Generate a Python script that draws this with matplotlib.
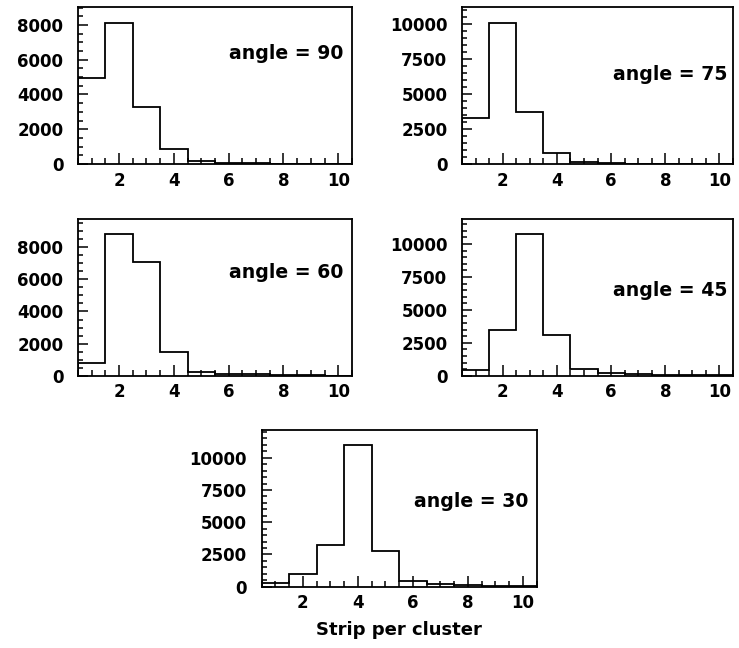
import matplotlib
matplotlib.use("Agg")
import matplotlib.pyplot as plt
from matplotlib.ticker import MultipleLocator

plt.rcParams['font.family'] = ['DejaVu Sans']
plt.rcParams['font.weight'] = 'bold'

# bin edges for strips per cluster (1..10)
edges = [0.5, 1.5, 2.5, 3.5, 4.5, 5.5, 6.5, 7.5, 8.5, 9.5, 10.5]

# counts
counts_90 = [4930, 8090, 3290, 840, 170, 80, 40, 20, 10, 5]
counts_75 = [3310, 10050, 3690, 760, 160, 60, 30, 15, 8, 4]
counts_60 = [810, 8810, 7100, 1460, 250, 120, 80, 50, 20, 10]
counts_45 = [460, 3450, 10730, 3070, 490, 230, 150, 80, 40, 20]
counts_30 = [310, 980, 3260, 10980, 2740, 470, 230, 100, 50, 20]

angles = [90, 75, 60, 45, 30]
all_counts = [counts_90, counts_75, counts_60, counts_45, counts_30]
ymaxes = [9030, 11200, 9760, 11900, 12150]
ymajor = [2000, 2500, 2000, 2500, 2500]

# axes boxes in figure fractions, plus label spot in axes coords
boxes = [[0.1055, 0.7469, 0.3708, 0.2423],
         [0.6252, 0.7469, 0.3667, 0.2423],
         [0.1055, 0.4202, 0.3708, 0.2418],
         [0.6252, 0.4202, 0.3667, 0.2418],
         [0.3541, 0.0946, 0.3721, 0.2418]]
txt_pos = [(0.967, 0.707), (0.98, 0.571), (0.967, 0.657), (0.98, 0.542), (0.969, 0.542)]

fig = plt.figure(figsize=(7.39, 6.48), dpi=100)

for i in range(5):
    ax = fig.add_axes(boxes[i])
    ax.stairs(all_counts[i], edges, color='black', lw=1.3)
    ax.set_xlim(0.5, 10.5)
    ax.set_ylim(0, ymaxes[i])
    ax.xaxis.set_major_locator(MultipleLocator(2))
    ax.xaxis.set_minor_locator(MultipleLocator(0.5))
    ax.yaxis.set_major_locator(MultipleLocator(ymajor[i]))
    ax.yaxis.set_minor_locator(MultipleLocator(500))
    ax.tick_params(which='both', direction='in', top=False, right=False, width=1.1)
    ax.tick_params(axis='x', which='major', length=8, pad=5.5, labelsize=12)
    ax.tick_params(axis='x', which='minor', length=4)
    ax.tick_params(axis='y', which='major', length=7.5, pad=10.5, labelsize=12)
    ax.tick_params(axis='y', which='minor', length=3.8)
    for lab in ax.get_xticklabels() + ax.get_yticklabels():
        lab.set_fontweight('bold')
    for s in ax.spines.values():
        s.set_linewidth(1.3)
    ax.text(txt_pos[i][0], txt_pos[i][1], "angle = %d" % angles[i], transform=ax.transAxes,
            ha='right', va='center', fontsize=13.6, fontweight='bold')
    if i == 4:
        ax.set_xlabel("Strip per cluster", fontsize=13, fontweight='bold', labelpad=6)

fig.savefig("out.png", dpi=100)
